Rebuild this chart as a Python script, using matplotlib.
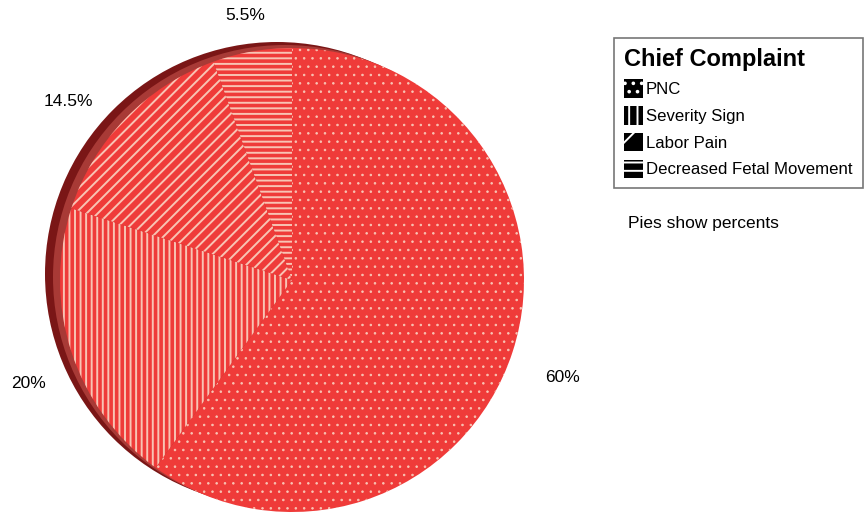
import matplotlib.pyplot as plt
from matplotlib.patches import Patch, Circle

# Chief complaint shares (clockwise from 12 o'clock)
categories = ['PNC', 'Severity Sign', 'Labor Pain', 'Decreased Fetal Movement']
percents = [60, 20, 14.5, 5.5]
pct_labels = ['60%', '20%', '14.5%', '5.5%']
hatches = ['..', '|||', '///', '---']
legend_hatches = ['..', '||', '/', '--']

# where the percent labels sit (pixels from top-left)
label_pos = [(562, 378), (28, 383), (68, 102), (245, 16)]

plt.rcParams['font.family'] = ['Liberation Sans', 'DejaVu Sans']
plt.rcParams['hatch.linewidth'] = 1.4

fig = plt.figure(figsize=(8.67, 5.15), dpi=100)
ax = fig.add_axes([0, 0, 1, 1])

cx, cy, r = 292, 235, 232

# dark side of the tilted pie, peeking out at the upper left
ax.add_patch(Circle((cx - 15, cy + 6), r, facecolor='#7a1616', edgecolor='none', zorder=1))
ax.add_patch(Circle((cx - 7, cy + 3), r, facecolor='#a83a36', edgecolor='none', zorder=1.5))

wedges, texts = ax.pie(percents, labels=pct_labels, center=(cx, cy), radius=r,
                       startangle=90, counterclock=False, labeldistance=1.2,
                       frame=True, textprops={'fontsize': 12.5})
for w, h in zip(wedges, hatches):
    w.set_facecolor('#ef3b39')
    w.set_edgecolor('#f8c4b4')
    w.set_linewidth(0)
    w.set_hatch(h)
    w.set_zorder(2)
if hasattr(wedges[0], 'set_hatch_linewidth'):
    wedges[0].set_hatch_linewidth(0.6)
for t, (px, py) in zip(texts, label_pos):
    t.set_position((px, 515 - py))
    t.set_ha('center')
    t.set_va('center')

ax.set_xlim(0, 867)
ax.set_ylim(0, 515)
ax.set_aspect('equal')
ax.axis('off')

handles = [Patch(facecolor='black', edgecolor='white', linewidth=0, hatch=h)
           for h in legend_hatches]
leg = fig.legend(handles, categories, title='Chief Complaint',
                 loc='upper left', bbox_to_anchor=(614 / 867, 1 - 38 / 515),
                 borderaxespad=0, fancybox=False, edgecolor='#555555',
                 fontsize=12.1, handlelength=1.1, handleheight=1.3,
                 handletextpad=0.2, labelspacing=0.5, borderpad=0.6,
                 alignment='left',
                 title_fontproperties={'weight': 'bold', 'size': 17})
leg.get_frame().set_linewidth(1.2)

fig.text(628 / 867, 1 - 223 / 515, 'Pies show percents', fontsize=12.5, va='center')

fig.savefig('out.png', dpi=100)
